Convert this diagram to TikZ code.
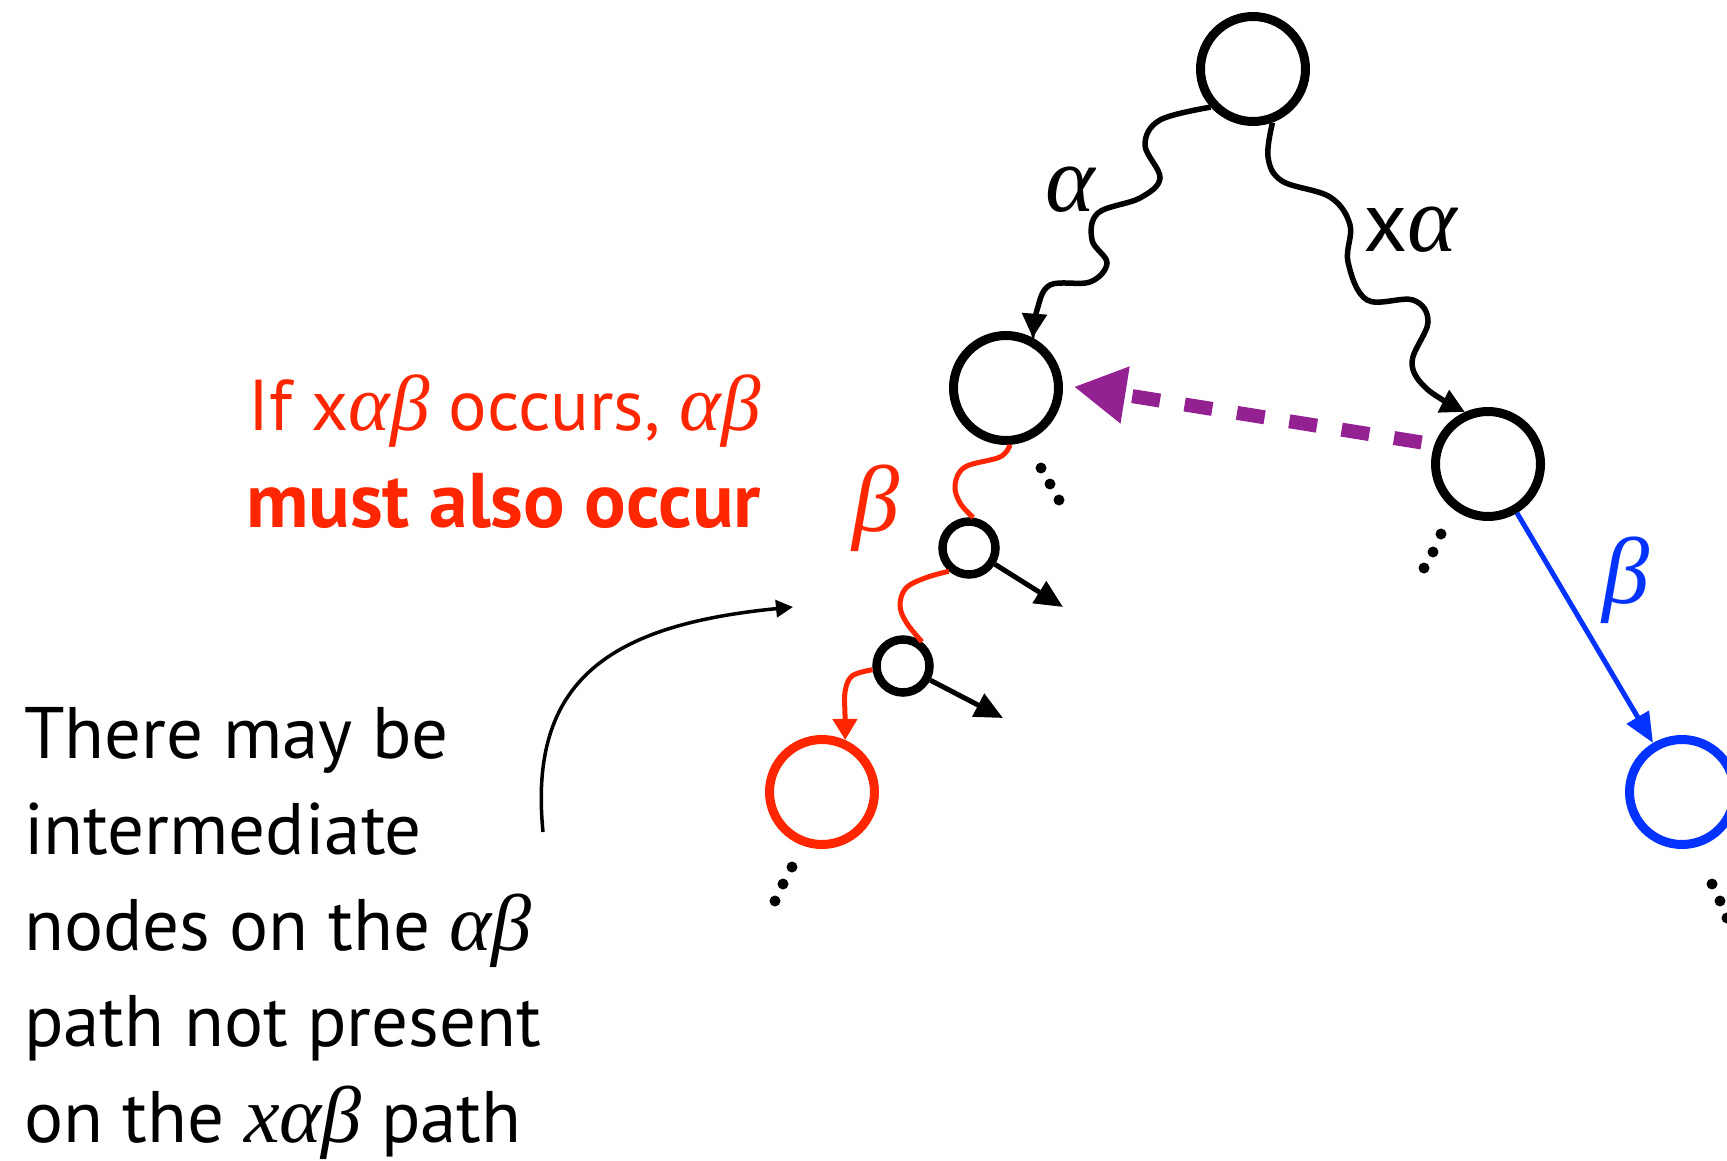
\documentclass[tikz,border=0pt]{standalone}
\usepackage{fontspec}
\setmainfont{PT Sans}
\newfontfamily\grkfont{Liberation Serif}[Scale=1.1]
\newcommand{\gk}[1]{{\grkfont\itshape #1}}
\usetikzlibrary{arrows.meta}

\definecolor{trred}{RGB}{255,38,0}
\definecolor{trblue}{RGB}{4,51,255}
\definecolor{trplum}{RGB}{148,33,146}

\begin{document}
\begin{tikzpicture}[x=1pt, y=-1pt,
  big/.style={circle, draw, line width=9pt, minimum size=105pt, inner sep=0pt},
  small/.style={circle, draw, line width=8.5pt, minimum size=53pt, inner sep=0pt},
  wave/.style={line width=5.5pt, -{Triangle[length=24pt, width=24pt]}},
  rline/.style={trred, line width=5pt},
  harr/.style={line width=5pt, -{Triangle[length=28pt, width=25pt]}},
  txt/.style={anchor=base west, inner sep=0pt, font=\fontsize{73}{96}\selectfont},
  lbl/.style={inner sep=0pt, font=\fontsize{86}{96}\selectfont},
  dot/.style={radius=5.5pt}]
  \useasboundingbox (0,0) rectangle (1727,1161);

  % tree
  \node[big] (root) at (1253,69) {};
  \node[big] (a) at (1006,388) {};
  \node[big] (b) at (1488,464) {};
  \node[small] (s1) at (969,548) {};
  \node[small] (s2) at (903,666) {};
  \node[big, draw=trred] (ra) at (822,792) {};
  \node[big, draw=trblue] (bb) at (1682,792) {};

  % alpha and x alpha paths
  \draw[wave] plot[smooth, tension=0.6] coordinates {(root.222) (1160,120) (1145,145)
    (1160,178) (1140,198) (1098,213) (1092,240) (1107,263) (1090,282) (1050,285)
    (1037,310) (a.62)};
  \draw[wave] plot[smooth, tension=0.6] coordinates {(root.-70) (1268,157) (1282,181)
    (1330,197) (1350,225) (1348,262) (1367,300) (1413,300) (1428,322) (1412,362)
    (1427,389) (b.114)};
  \node[lbl] (la) at (1070,190) {\gk{α}};
  \node[lbl] (lxa) at (1410,230) {x\gk{α}};

  % beta below the alpha node
  \draw[rline] plot[smooth, tension=0.6] coordinates {(a.-86) (1000,457) (965,467)
    (955,485) (960,503) (s1.82)};
  \draw[rline] plot[smooth, tension=0.6] coordinates {(s1.229) (925,578) (906,588)
    (900,605) (906,622) (s2.52)};
  \draw[rline, -{Triangle[length=21pt, width=24pt]}] plot[smooth, tension=0.6]
    coordinates {(s2.187) (852,676) (845,692) (845,715) (ra.66)};
  \node[lbl, text=trred] (lbr) at (876,508) {\gk{β}};

  \coordinate (s1out) at (1063,607);
  \coordinate (s2out) at (1003,718);
  \draw[harr] (s1) -- (s1out);
  \draw[harr] (s2) -- (s2out);

  % beta below the x alpha node
  \draw[trblue, line width=5pt, -{Triangle[length=30pt, width=25pt]}] (b) -- (bb);
  \node[lbl, text=trblue] (lbb) at (1626,580) {\gk{β}};

  % suffix link
  \draw[trplum, line width=14pt, dash pattern=on 28pt off 25pt,
    shorten <=13pt, shorten >=11pt,
    -{Triangle[length=52pt, width=54pt]}] (b.160) -- (a.3);

  % dots
  \foreach \x/\y in {1041/468, 1050/484, 1059/500, 1441/534, 1433/552, 1424/568,
    792/867, 783/884, 775/901, 1712/884, 1720/901, 1727/918}
    \fill (\x,\y) circle[dot];

  % text
  \node[txt, text=trred, font=\fontsize{72}{96}\selectfont] (r1) at (248,430)
    {If x\gk{αβ} occurs, \gk{αβ}};
  \node[txt, text=trred, font=\fontsize{77.5}{96}\selectfont\bfseries] (r2) at (246,527)
    {must also occur};

  \node[txt] (t1) at (24,758) {There may be};
  \node[txt] (t2) at (24,854) {intermediate};
  \node[txt] (t3) at (24,950) {nodes on the \gk{αβ}};
  \node[txt] (t4) at (24,1046) {path not present};
  \node[txt] (t5) at (24,1142) {on the \gk{xαβ} path};

  \coordinate (cstart) at (543,832);
  \coordinate (cend) at (793,607);
  \draw[line width=3.5pt, -{Triangle[length=17pt, width=17pt]}]
    (cstart) .. controls (528,680) and (610,625) .. (cend);
\end{tikzpicture}
\end{document}
